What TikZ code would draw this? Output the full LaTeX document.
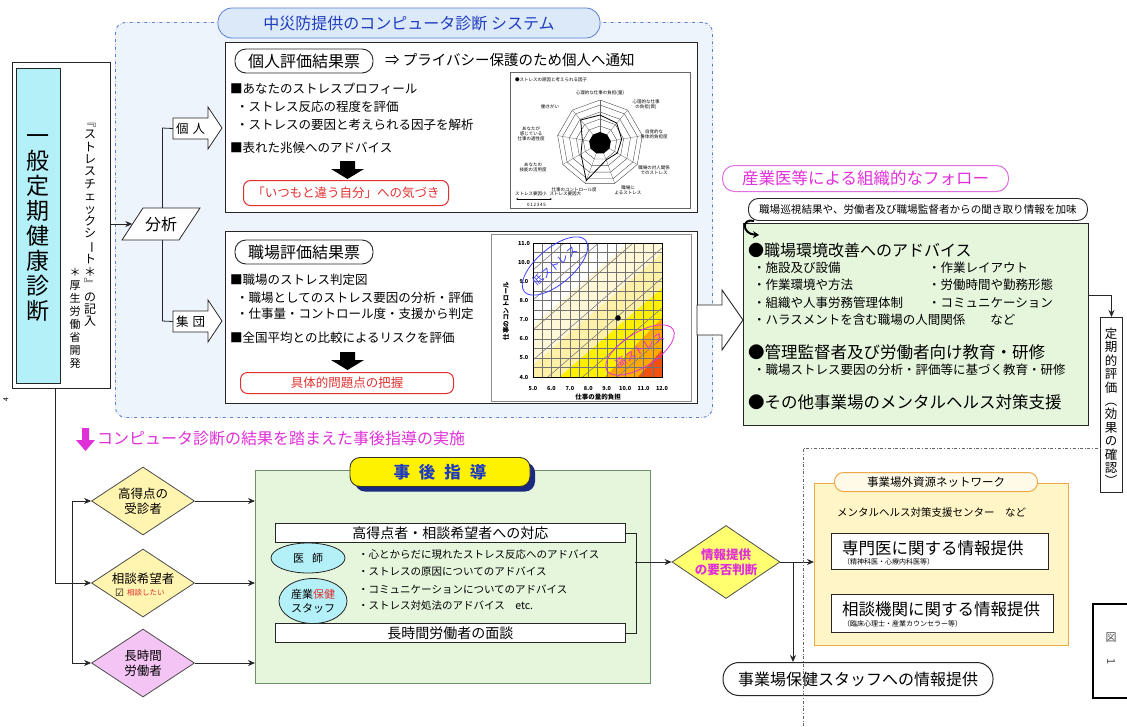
\documentclass[tikz,border=0pt]{standalone}
\usepackage{fontspec}
\setmainfont{Noto Sans CJK JP}
\newfontfamily\dejavu{DejaVu Sans}
\usepackage{graphicx}
\usetikzlibrary{arrows.meta,shapes.geometric,calc,shadows}
\newcommand{\myfs}[2]{\fontsize{#1}{#2}\selectfont}
\newcommand{\vbar}{\rotatebox[origin=c]{-90}{ー}}
\definecolor{cyanF}{HTML}{B4F0F8}
\definecolor{blueF}{HTML}{EEF4FC}
\definecolor{blueB}{HTML}{5A7FD0}
\definecolor{sysF}{HTML}{DCE9F8}
\definecolor{sysT}{HTML}{1F3CC0}
\definecolor{magT}{HTML}{E030D8}
\definecolor{pinkB}{HTML}{E070E0}
\definecolor{greenF}{HTML}{E6F6DD}
\definecolor{greenB}{HTML}{6F8F68}
\definecolor{yellowD}{HTML}{FFF4B0}
\definecolor{pinkD}{HTML}{F4C4F4}
\definecolor{infoY}{HTML}{FFFF70}
\definecolor{netF}{HTML}{FFF5C6}
\definecolor{netB}{HTML}{F0A848}
\definecolor{redT}{HTML}{E03030}
\definecolor{navyS}{HTML}{1A2A80}
\definecolor{chartA}{HTML}{FFF7D8}
\definecolor{chartB}{HTML}{FFF0A8}
\definecolor{chartY}{HTML}{FFF000}
\definecolor{chartO}{HTML}{FFA800}
\definecolor{chartR}{HTML}{F05010}
\begin{document}
\begin{tikzpicture}[x=1pt,y=-1pt,
  box/.style={draw=black!85, fill=white, line width=1, inner sep=0, anchor=north west},
  txt/.style={anchor=west, inner sep=0},
  arr/.style={-{Stealth[length=7pt,width=6pt]}, line width=0.8, draw=black!85},
  vt/.style={align=center, inner sep=0},
  rl/.style={font=\myfs{4.5}{5}, align=center, inner sep=0},
  body/.style={txt, font=\myfs{12.5}{14}},
  redbox/.style={draw=redT, line width=1, rounded corners=7, inner sep=0, text=redT, font=\myfs{12.5}{14}, anchor=north west},
  titlepill/.style={draw=black!85, fill=white, rounded corners=11, minimum width=138, minimum height=24, inner sep=0, font=\myfs{16}{18}, line width=0.9},
  dia/.style={diamond, draw=black!70, line width=0.8, minimum width=103, minimum height=68, inner sep=0, aspect=1.5, font=\myfs{12.5}{15}, align=center}
]
\useasboundingbox (0,0) rectangle (1127,726);
\fill[white] (0,0) rectangle (1127,726);

% ---------- system region ----------
\node[draw=blueB, dash dot, fill=blueF, rounded corners=10, line width=0.9, minimum width=597, minimum height=395, anchor=north west, inner sep=0] (sys) at (115,22) {};
\node[draw=blueB, fill=sysF, rounded corners=14, minimum width=382, minimum height=30, inner sep=0, text=sysT, font=\myfs{16}{18}, line width=0.8] (systitle) at (409,23) {中災防提供のコンピュータ診断 システム};

% ---------- left column ----------
\node[box, minimum width=98, minimum height=326] (health) at (12,62) {};
\node[box, fill=cyanF, minimum width=44, minimum height=315] (healthin) at (16,68) {};
\node[vt, font=\myfs{23}{25}] (healthtxt) at (38,228) {一\\般\\定\\期\\健\\康\\診\\断};
\node[vt, font=\myfs{12}{12.4}] (sheet) at (90,225) {﹃\\ス\\ト\\レ\\ス\\チ\\ェ\\ッ\\ク\\シ\\\vbar\\ト\\＊\\﹄\\の\\記\\入};
\node[vt, font=\myfs{11}{13}] (mhlw) at (75,318) {＊\\厚\\生\\労\\働\\省\\開\\発};
\node[rotate=90, font=\myfs{7}{8}, inner sep=0] (pg) at (6,400) {4};

% ---------- analysis ----------
\coordinate (br1) at (162,128);
\coordinate (br2) at (162,321);
\draw[line width=0.8, draw=black!85] (br1) -- (br2);
\filldraw[fill=white, draw=black!85, line width=0.8] (122,240) -- (143,208) -- (200,208) -- (179,240) -- cycle;
\node[minimum width=57, minimum height=32, inner sep=0, font=\myfs{16}{18}] (bunseki) at (161,224) {分析};
\draw[arr] (health.east |- bunseki.west) -- (bunseki.west);

\filldraw[fill=white, draw=black!85, line width=0.8] (173,118) -- (208,118) -- (208,107) -- (222,128) -- (208,149) -- (208,139) -- (173,139) -- cycle;
\node[minimum width=35, inner sep=0, font=\myfs{12.5}{14}] (kojin) at (190.5,128.5) {個\hspace{4pt}人};
\draw[line width=0.8, draw=black!85] (br1) -- (kojin.west);
\filldraw[fill=white, draw=black!85, line width=0.8] (173,311) -- (208,311) -- (208,300) -- (222,321) -- (208,342) -- (208,332) -- (173,332) -- cycle;
\node[minimum width=35, inner sep=0, font=\myfs{12.5}{14}] (shudan) at (190.5,321.5) {集\hspace{4pt}団};
\draw[line width=0.8, draw=black!85] (br2) -- (shudan.west);

% ---------- individual box ----------
\node[box, minimum width=472, minimum height=170] (indiv) at (225,42) {};
\node[titlepill] (indivtitle) at (304,61) {個人評価結果票};
\node[txt, font=\myfs{14.5}{16}] (notify) at (385,60) {⇒ プライバシー保護のため個人へ通知};
\node[body] (i1) at (230,89) {■あなたのストレスプロフィール};
\node[body] (i2) at (236,107) {・ストレス反応の程度を評価};
\node[body] (i3) at (236,125) {・ストレスの要因と考えられる因子を解析};
\node[body] (i4) at (230,148) {■表れた兆候へのアドバイス};
\fill (340,161) -- (355,161) -- (355,169) -- (364,169) -- (347.5,179) -- (331,169) -- (340,169) -- cycle;
\node[redbox, minimum width=205, minimum height=25] (aware) at (243,180) {「いつもと違う自分」への気づき};

% radar chart
\node[draw=black!60, line width=0.6, minimum width=180, minimum height=136, anchor=north west, inner sep=0] (radar) at (510,72) {};
\begin{scope}[shift={(600,143)}]
  \foreach \r in {17,24,31,38,43}{\draw[black!70, line width=0.4] (-90:\r) \foreach \k in {1,...,8}{ -- ({-90+\k*40}:\r)} -- cycle;}
  \foreach \k in {0,...,8}{\draw[black!60, line width=0.3] (0,0) -- ({-90+\k*40}:43);}
  \fill (-90:11) \foreach \k in {1,...,8}{ -- ({-90+\k*40}:11)} -- cycle;
  \draw[line width=0.8] (-90:28) -- (-50:26) -- (-10:22) -- (30:20) -- (70:18) -- (110:40) -- (150:22) -- (190:18) -- (230:30) -- cycle;
\end{scope}
\node[rl, anchor=west] (rt) at (515,80) {●ストレスの原因と考えられる因子};
\node[rl] (r0) at (600,93) {心理的な仕事の負担(量)};
\node[rl] (r1) at (646,105) {心理的な仕事\\の負担(質)};
\node[rl] (r2) at (654,134) {自覚的な\\身体的負担度};
\node[rl] (r3) at (654,170) {職場の対人関係\\でのストレス};
\node[rl] (r4) at (628,190) {職場に\\よるストレス};
\node[rl] (r5) at (574,190) {仕事のコントロール度};
\node[rl] (r6) at (533,167) {あなたの\\技能の活用度};
\node[rl] (r7) at (531,134) {あなたが\\感じている\\仕事の適性度};
\node[rl] (r8) at (550,107) {働きがい};
\node[rl, anchor=west] (leg1) at (515,194) {ストレス要因小\hspace{3pt}ストレス要因大};
\draw[line width=0.3, {Stealth[length=2pt]}-{Stealth[length=2pt]}] (516,199) -- (552,199);
\node[rl, anchor=west] (leg2) at (527,205) {0\,1\,2\,3\,4\,5};

% ---------- group box ----------
\node[box, minimum width=472, minimum height=172] (group) at (225,231) {};
\node[titlepill] (grouptitle) at (304,252) {職場評価結果票};
\node[body] (g1) at (230,280) {■職場のストレス判定図};
\node[body] (g2) at (236,298) {・職場としてのストレス要因の分析・評価};
\node[body] (g3) at (236,314) {・仕事量・コントロール度・支援から判定};
\node[body] (g4) at (230,338) {■全国平均との比較によるリスクを評価};
\fill (340,352) -- (355,352) -- (355,360) -- (364,360) -- (347.5,370) -- (331,360) -- (340,360) -- cycle;
\node[redbox, minimum width=213, minimum height=21] (problem) at (240,372) {具体的問題点の把握};

% stress chart
\node[draw=black!45, minimum width=200, minimum height=167, anchor=north west, inner sep=0, line width=0.5] (chart) at (491,234) {};
\begin{scope}
  \clip (533,243) rectangle (662,377);
  \fill[chartA] (533,243) rectangle (662,377);
  \fill[white] (533,243) -- (662,243) -- (662,213) -- (533,325) -- cycle;
  \fill[chartB] (533,365) -- (662,253) -- (662,377) -- (533,377) -- cycle;
  \fill[chartY] (533,400) -- (662,288) -- (662,377) -- (533,377) -- cycle;
  \fill[chartO] (605,377) -- (662,318) -- (662,377) -- cycle;
  \fill[chartR] (638,377) -- (662,350) -- (662,377) -- cycle;
  \foreach \i in {0,...,14} \draw[black!55, line width=0.35] ({533+\i*9.2143},243) -- ({533+\i*9.2143},377);
  \foreach \i in {0,...,14} \draw[black!55, line width=0.35] (533,{243+\i*9.5714}) -- (662,{243+\i*9.5714});
  \foreach \b in {270,300,330,360,390,420,450} \draw[black!50, line width=0.6] (533,\b) -- (662,{\b-112});
\end{scope}
\draw[line width=0.8] (533,243) rectangle (662,377);
\foreach \v/\i in {5.0/0,6.0/1,7.0/2,8.0/3,9.0/4,10.0/5,11.0/6,12.0/7}
  \node[font=\myfs{5.5}{6}\bfseries, inner sep=0] at ({533+\i*18.43},388) {\v};
\foreach \v/\i in {4.0/0,5.0/1,6.0/2,7.0/3,8.0/4,9.0/5,10.0/6,11.0/7}
  \node[font=\myfs{5.5}{6}\bfseries, inner sep=0] at (524,{377-\i*19.14}) {\v};
\node[font=\myfs{6.5}{7}\bfseries, inner sep=0] (xlab) at (598,397) {仕事の量的負担};
\node[font=\myfs{6.5}{7}\bfseries, inner sep=0, rotate=90] (ylab) at (506,311) {仕事のコントロール};
\fill (618,318) circle (2.8);
\node[draw=blue!75!white, ellipse, line width=0.8, minimum width=80, minimum height=36, rotate=40, text=blue!75!white, font=\myfs{11}{12}, inner sep=0] (lowst) at (555,266) {低ストレス};
\node[draw=magT, ellipse, line width=0.8, minimum width=78, minimum height=34, rotate=32, text=magT, font=\myfs{11}{12}, inner sep=0] (highst) at (640,350) {高ストレス};

% big arrow to the right
\filldraw[fill=white, draw=black!85, line width=0.9] (697,305) -- (722,305) -- (722,290) -- (743,320) -- (722,350) -- (722,335) -- (697,335) -- cycle;

% ---------- follow-up panel ----------
\node[draw=pinkB, fill=white, rounded corners=12, line width=1, minimum width=286, minimum height=26, anchor=north west, inner sep=0, text=magT, font=\myfs{16.5}{18}] (followtitle) at (722,165) {産業医等による組織的なフォロー};
\node[draw=black!85, fill=white, rounded corners=10, line width=0.9, minimum width=339, minimum height=22, anchor=north west, inner sep=0, font=\myfs{10.6}{12}] (note) at (748,198) {職場巡視結果や、労働者及び職場監督者からの聞き取り情報を加味};
\node[draw=black!85, fill=greenF, line width=1, minimum width=345, minimum height=202, anchor=north west, inner sep=0] (advice) at (743,223) {};
\coordinate (curveend) at (759,235);
\draw[line width=2, -{Stealth[length=6pt,width=7pt]}] ([xshift=6pt]note.south west) .. controls (741,218) and (742,234) .. (curveend);
\node[txt, font=\myfs{16}{18}] (a1) at (748,250) {●職場環境改善へのアドバイス};
\node[body] (a2) at (753,268) {・施設及び設備};
\node[body] (a3) at (928,268) {・作業レイアウト};
\node[body] (a4) at (753,285) {・作業環境や方法};
\node[body] (a5) at (928,285) {・労働時間や勤務形態};
\node[body] (a6) at (753,303) {・組織や人事労務管理体制};
\node[body] (a7) at (928,303) {・コミュニケーション};
\node[body] (a8) at (753,320) {・ハラスメントを含む職場の人間関係　　など};
\node[txt, font=\myfs{16.5}{18}] (a9) at (748,352) {●管理監督者及び労働者向け教育・研修};
\node[body] (a10) at (753,370) {・職場ストレス要因の分析・評価等に基づく教育・研修};
\node[txt, font=\myfs{16.5}{18}] (a11) at (748,402) {●その他事業場のメンタルヘルス対策支援};

\node[box, minimum width=22, minimum height=175] (teiki) at (1100,317) {};
\node[vt, font=\myfs{12.5}{13.4}] (teikit) at (1111,407) {定\\期\\的\\評\\価\\︵\\効\\果\\の\\確\\認\\︶};
\draw[arr] ($(advice.north east)+(0,72)$) -| (teiki.north);

% ---------- post-guidance ----------
\fill[magT] (82,428) -- (89,428) -- (89,440) -- (95,440) -- (85.5,451) -- (76,440) -- (82,440) -- cycle;
\node[txt, font=\myfs{16}{18}, text=magT] (jigo) at (97,438) {コンピュータ診断の結果を踏まえた事後指導の実施};

\node[dia, fill=yellowD] (d1) at (143,501) {高得点の\\受診者};
\node[dia, fill=yellowD] (d2) at (143,583) {};
\node[font=\myfs{12.5}{14}, inner sep=0] (d2t) at (143,579) {相談希望者};
\node[anchor=west, inner sep=0, font=\dejavu\myfs{10}{10}] (chk) at (115,593) {☑};
\node[anchor=west, inner sep=0, font=\myfs{7.5}{8}, text=redT] (chkt) at (127,593) {相談したい};
\node[dia, fill=pinkD] (d3) at (143,663) {長時間\\労働者};

\coordinate (hl) at (55,388);
\coordinate (bx) at (72,583);
\draw[arr] (hl) |- (d2.west);
\draw[arr] (bx) |- (d1.west);
\draw[arr] (bx) |- (d3.west);

\node[draw=greenB, fill=greenF, line width=0.9, minimum width=395, minimum height=213, anchor=north west, inner sep=0] (guide) at (255,470) {};
\draw[arr] (d1.east) -- (d1.east -| guide.west);
\draw[arr] (d2.east) -- (d2.east -| guide.west);
\draw[arr] (d3.east) -- (d3.east -| guide.west);
\node[fill=yellow, draw=black!80, line width=0.9, rounded corners=10, minimum width=180, minimum height=29, inner sep=0, text=sysT, font=\myfs{16.5}{18}\bfseries, drop shadow={shadow xshift=5pt, shadow yshift=-5pt, fill=navyS, opacity=1}] (guidetitle) at (440,472) {事\hspace{9pt}後\hspace{9pt}指\hspace{9pt}導};

\node[box, line width=0.9, minimum width=350, minimum height=19, anchor=north west, font=\myfs{14}{16}] (bar1) at (275,523) {高得点者・相談希望者への対応};
\node[box, line width=0.9, minimum width=350, minimum height=19, anchor=north west, font=\myfs{14}{16}] (bar2) at (275,623) {長時間労働者の面談};
\node[ellipse, draw=black!85, fill=cyanF, line width=0.8, minimum width=74, minimum height=30, inner sep=0, font=\myfs{11}{12}] (doc) at (308,558) {医\hspace{8pt}師};
\node[ellipse, draw=black!85, fill=cyanF, line width=0.8, minimum width=68, minimum height=45, inner sep=0, font=\myfs{11}{14}, align=center] (staff) at (313,601) {産業\textcolor{redT}{保健}\\スタッフ};
\node[txt, font=\myfs{10.5}{12}] (b1) at (358,555) {・心とからだに現れたストレス反応へのアドバイス};
\node[txt, font=\myfs{10.5}{12}] (b2) at (358,572) {・ストレスの原因についてのアドバイス};
\node[txt, font=\myfs{10.5}{12}] (b3) at (358,589) {・コミュニケーションについてのアドバイス};
\node[txt, font=\myfs{10.5}{12}] (b4) at (358,606) {・ストレス対処法のアドバイス　etc.};

\draw[line width=0.8, draw=black!85] (bar1.east) -- ($(bar1.east)+(10,0)$) |- (bar2.east);
\coordinate (bk) at (635,562);

\node[dia, fill=infoY, minimum width=108, minimum height=73, text=magT, font=\myfs{12.5}{15}\bfseries] (info) at (726,562) {情報提供\\の要否判断};
\draw[arr] (bk) -- (info.west);

% ---------- external network ----------
\node[draw=netB, fill=netF, line width=1, minimum width=254, minimum height=162, anchor=north west, inner sep=0] (net) at (814,483) {};
\node[draw=netB, fill=white!60!netF, line width=1, rounded corners=9, minimum width=203, minimum height=19, inner sep=0, font=\myfs{11.5}{13}] (nettitle) at (936,482) {事業場外資源ネットワーク};
\node[txt, font=\myfs{10.5}{12}] (netc) at (837,512) {メンタルヘルス対策支援センター　など};
\node[box, line width=1.1, minimum width=217, minimum height=36] (spec1) at (831,533) {};
\node[txt, font=\myfs{16.5}{18}] (spec1t) at (842,548) {専門医に関する情報提供};
\node[txt, font=\myfs{7}{8}] (spec1s) at (843,562) {（精神科医・心療内科医等）};
\node[box, line width=1.1, minimum width=222, minimum height=38] (spec2) at (831,594) {};
\node[txt, font=\myfs{16.5}{18}] (spec2t) at (842,609) {相談機関に関する情報提供};
\node[txt, font=\myfs{7}{8}] (spec2s) at (843,624) {（臨床心理士・産業カウンセラー等）};

\node[draw=black!85, fill=white, line width=1, rounded corners=16, minimum width=270, minimum height=33, inner sep=0, font=\myfs{16}{18}] (staffinfo) at (858,679) {事業場保健スタッフへの情報提供};
\coordinate (br3) at (793,562);
\draw[arr] (info.east) -- (info.east -| net.west);
\draw[arr] (br3) -- (br3 |- staffinfo.north);

\coordinate (dd0) at (803,726);
\coordinate (dd1) at (803,448);
\draw[black!60, dash dot, line width=0.9] (dd0) -- (dd1) -- (dd1 -| teiki.west);

% figure label
\node[draw=black, line width=1.8, minimum width=40, minimum height=94, anchor=north west, inner sep=0] (fig) at (1092,603) {};
\node[font=\myfs{11}{12}, text=black!70, inner sep=0] (figz) at (1111,638) {図};
\node[font=\myfs{11}{12}, text=black!70, rotate=-90, inner sep=0] (fig1) at (1111,662) {1};
\end{tikzpicture}
\end{document}
